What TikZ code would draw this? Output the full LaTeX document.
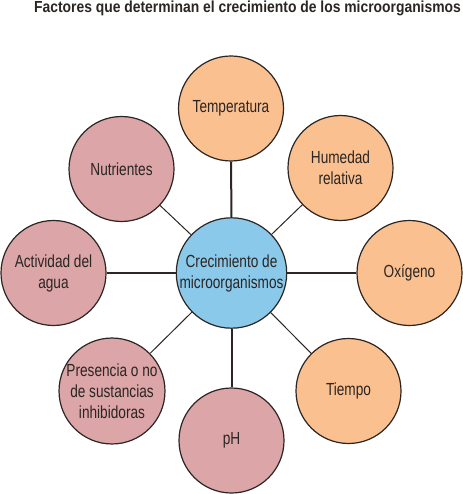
\documentclass[tikz,border=0pt]{standalone}
\usepackage{fontspec}
\setmainfont{Liberation Sans}[FakeStretch=0.78]
\newfontfamily\titlefont{Liberation Sans}[FakeStretch=0.868]

\definecolor{naranja}{HTML}{FAC08F}
\definecolor{rosa}{HTML}{DCA5A7}
\definecolor{azul}{HTML}{8BC9EB}
\definecolor{borde}{HTML}{2B2523}

\tikzset{
  factor/.style={circle,draw=borde,line width=1.2pt,minimum size=105pt,inner sep=0pt,
    align=center,text=borde,font=\fontsize{17.5}{21}\selectfont},
  grueso/.style={line width=2pt,draw=borde},
  fino/.style={line width=1pt,draw=borde}
}

\begin{document}
\begin{tikzpicture}[x=1pt,y=-1pt]

\useasboundingbox (0,0) rectangle (462,494);

\node [anchor=base,text=borde,inner sep=0pt] (titulo) at (247.5,13)
  {\titlefont\bfseries\fontsize{16}{18}\selectfont Factores que determinan el crecimiento de los microorganismos};

\node [factor,fill=azul] (centro) at (231.5,273) {Crecimiento de\\microorganismos};

\node [factor,fill=naranja] (temp) at (231,108.5) {Temperatura};
\node [factor,fill=naranja] (hum) at (340.5,168) {Humedad\\relativa};
\node [factor,fill=naranja] (oxi) at (409.5,273) {Oxígeno};
\node [factor,fill=naranja] (tiempo) at (348.5,391) {Tiempo};

\node [factor,fill=rosa] (ph) at (231.5,440.5) {pH};
\node [factor,fill=rosa] (pres) at (112,391) {Presencia o no\\de sustancias\\inhibidoras};
\node [factor,fill=rosa] (act) at (53.5,273) {Actividad del\\agua};
\node [factor,fill=rosa] (nutr) at (121.5,169) {Nutrientes};

% lineas rectas
\draw[grueso] (centro) -- (temp);
\draw[grueso] (centro) -- (oxi);
\draw[grueso] (centro) -- (ph);
\draw[grueso] (centro) -- (act);

% lineas diagonales
\draw[fino] (centro) -- (hum);
\draw[fino] (centro) -- (tiempo);
\draw[fino] (centro) -- (pres);
\draw[fino] (centro) -- (nutr);

\end{tikzpicture}
\end{document}
